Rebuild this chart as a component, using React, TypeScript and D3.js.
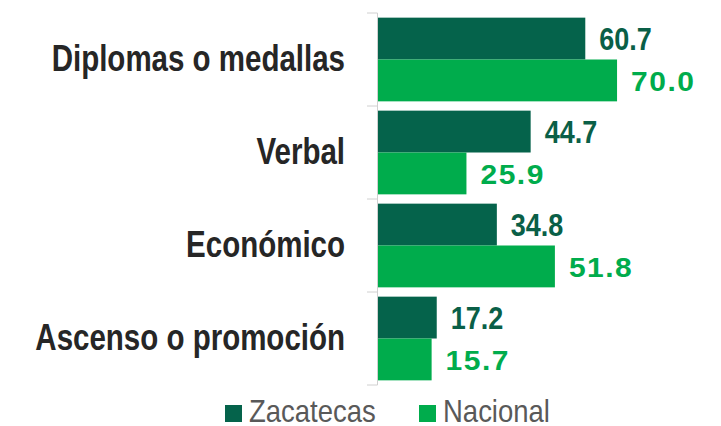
import React from "react";
import * as d3 from "d3";

const width = 721;
const height = 426;

const categories = ["Diplomas o medallas", "Verbal", "Económico", "Ascenso o promoción"];
const seriesNames = ["Zacatecas", "Nacional"];
const zacatecas = [60.7, 44.7, 34.8, 17.2];
const nacional = [70.0, 25.9, 51.8, 15.7];

const colors = ["#05634b", "#00ac4c"];
const font = "'Liberation Sans', Arial, sans-serif";

// the picture is stretched vertically, so text gets a scaleY
const Txt = ({ x, cy, size, stretch, anchor = "start", weight = "normal", fill, spacing = 0, children }: any) => {
  const base = cy + (0.716 * size * stretch) / 2;
  return (
    <text
      transform={`translate(${x},${base}) scale(1,${stretch})`}
      fontFamily={font}
      fontSize={size}
      fontWeight={weight}
      textAnchor={anchor}
      fill={fill}
      letterSpacing={spacing}
    >
      {children}
    </text>
  );
};

export default function App() {
  const x = d3.scaleLinear().domain([0, 100]).range([378, 719.5]);
  const y = d3.scaleBand().domain(categories).range([13, 385]).paddingInner(0.1).paddingOuter(0.05);
  const sub = d3.scaleBand().domain(seriesNames).range([0, y.bandwidth()]);
  const values = [zacatecas, nacional];
  const tickYs = categories.map((c) => (y(c) as number) - (y.step() * y.paddingInner()) / 2).concat([385]);

  return (
    <svg width={width} height={height} style={{ position: "absolute", left: 0, top: 0, background: "#fff" }}>
      {/* axis */}
      <line x1={377.5} x2={377.5} y1={13} y2={385} stroke="#d0d0d0" strokeWidth={1} />
      {tickYs.map((t, i) => (
        <line key={i} x1={367} x2={377.5} y1={t} y2={t} stroke="#d0d0d0" strokeWidth={1} />
      ))}

      {categories.map((c, i) => (
        <g key={c}>
          <Txt x={345} cy={(y(c) as number) + y.bandwidth() / 2 - 2} size={29.5} stretch={1.25} anchor="end" weight="bold" fill="#262626">
            {c}
          </Txt>
          {seriesNames.map((s, j) => {
            const v = values[j][i];
            const top = (y(c) as number) + (sub(s) as number);
            return (
              <g key={s}>
                <rect x={x(0)} y={top} width={x(v) - x(0)} height={sub.bandwidth()} fill={colors[j]} />
                <Txt
                  x={x(v) + 14}
                  cy={top + sub.bandwidth() / 2}
                  size={j === 0 ? 27 : 30}
                  stretch={j === 0 ? 1.14 : 0.95}
                  weight="bold"
                  spacing={j === 0 ? 0 : 1.5}
                  fill={j === 0 ? "#0a5f47" : "#00ac4c"}
                >
                  {v.toFixed(1)}
                </Txt>
              </g>
            );
          })}
        </g>
      ))}

      {/* legend */}
      {seriesNames.map((s, j) => {
        const lx = j === 0 ? 225 : 419;
        return (
          <g key={s}>
            <rect x={lx} y={405} width={17} height={17} fill={colors[j]} />
            <Txt x={lx + 24} cy={410.5} size={27.5} stretch={1.14} fill="#595959">
              {s}
            </Txt>
          </g>
        );
      })}
    </svg>
  );
}
